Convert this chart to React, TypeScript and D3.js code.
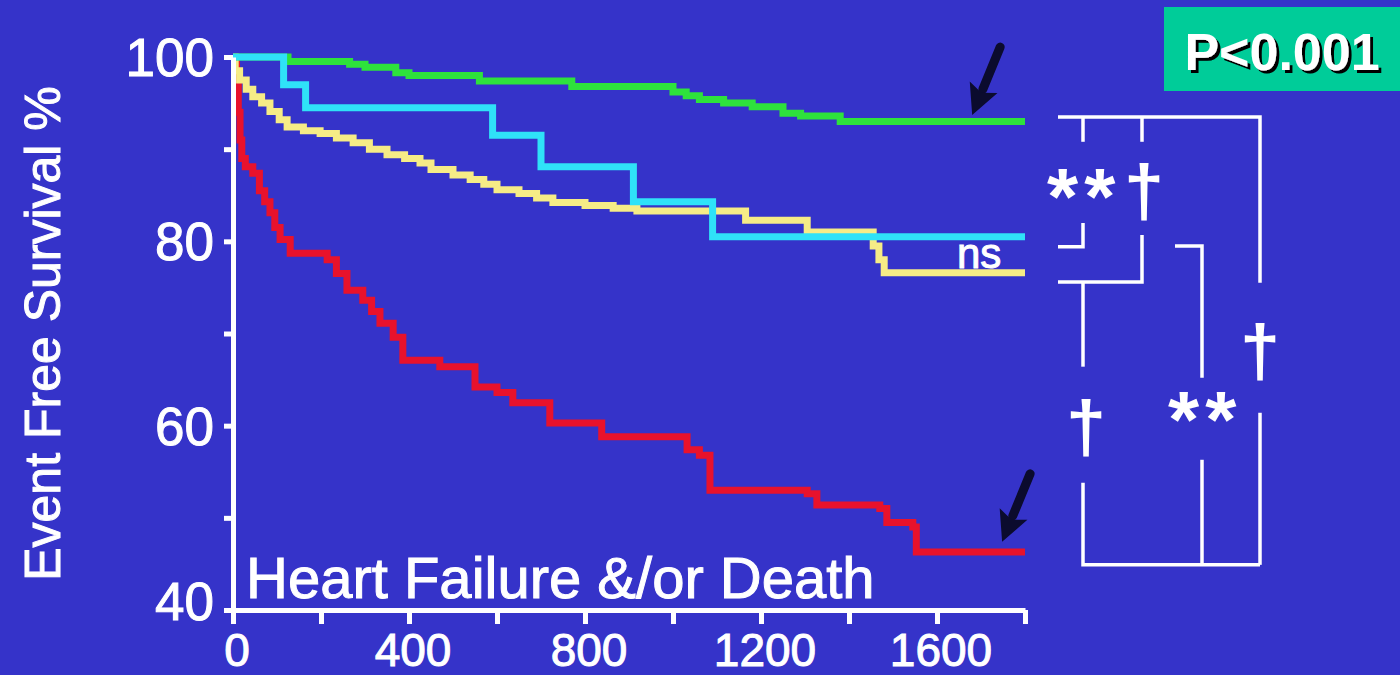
import React, { useEffect, useRef } from "react";
import * as d3 from "d3";

const W = 1400;
const H = 675;
const BG = "#3533c9";
const FONT = "'Liberation Sans', Arial, sans-serif";

// Kaplan-Meier steps: [days, event free survival %]
const greenSteps = [
  [0, 100], [125, 99.5], [265, 99.2], [300, 98.9], [370, 98.3], [400, 98.0],
  [560, 97.4], [770, 96.8], [1000, 96.2], [1030, 95.8], [1060, 95.4],
  [1115, 95.0], [1180, 94.6], [1250, 93.9], [1290, 93.6], [1380, 93.0],
];
const cyanSteps = [
  [0, 100], [115, 97.0], [165, 94.5], [590, 91.5], [700, 88.1], [910, 84.3], [1090, 80.5],
];
const yellowSteps = [
  [0, 100], [5, 98.5], [15, 97.5], [30, 96.5], [45, 95.7], [65, 95.0], [84, 94.1],
  [105, 93.2], [123, 92.4], [160, 92.0], [198, 91.7], [235, 91.2], [273, 90.7],
  [310, 90.0], [350, 89.4], [390, 89.0], [425, 88.5], [450, 87.8], [500, 87.2],
  [539, 86.7], [570, 86.2], [600, 85.6], [650, 85.2], [690, 84.7], [727, 84.2],
  [800, 83.9], [864, 83.6], [918, 83.3], [1165, 82.3], [1305, 81.0], [1455, 79.5],
  [1468, 78.0], [1480, 76.6],
];
const redSteps = [
  [0, 100], [8, 97], [12, 94], [16, 91], [20, 89], [28, 88.1], [45, 87.4], [60, 85.5],
  [72, 84.3], [84, 83.1], [95, 81.5], [107, 80.2], [130, 78.7], [214, 78.0],
  [235, 76.5], [259, 74.7], [295, 73.6], [315, 72.4], [334, 71.1], [364, 69.6],
  [386, 67.1], [470, 66.4], [550, 64.2], [600, 63.6], [636, 62.5], [720, 60.3],
  [838, 58.8], [1032, 57.4], [1060, 56.8], [1084, 53.0], [1305, 52.6], [1327, 51.4],
  [1470, 51.0], [1486, 49.5], [1545, 49.0], [1553, 46.3],
];

const series = [
  { name: "red", color: "#e8122c", values: redSteps },
  { name: "yellow", color: "#f6ec86", values: yellowSteps },
  { name: "green", color: "#2ee23c", values: greenSteps },
  { name: "cyan", color: "#2fe2f8", values: cyanSteps },
];

const xTicks = [0, 200, 400, 600, 800, 1000, 1200, 1400, 1600, 1800];
const xLabels = [0, 400, 800, 1200, 1600];
const yTicks = [40, 50, 60, 70, 80, 90, 100];
const yLabels = [40, 60, 80, 100];

// arrows point at the last steps of green and red
const arrowTips = [
  [1680, 93.7],
  [1748, 47.4],
];

// significance brackets: x as offset (px) from the right end of the x axis, y in survival %
const brackets = [
  [[33, 93.5], [235, 93.5], [235, 75.5]],
  [[58, 93.5], [58, 90.8]],
  [[117, 93.5], [117, 90.8]],
  [[58, 82.0], [58, 79.4], [33, 79.4]],
  [[117, 80.7], [117, 75.6], [33, 75.6]],
  [[150, 79.5], [177, 79.5], [177, 65.2]],
  [[58, 75.6], [58, 66.4]],
  [[58, 53.8], [58, 44.9], [235, 44.9]],
  [[177, 56.3], [177, 44.9]],
  [[235, 61.4], [235, 44.9]],
];
const bracketMarks = [
  { text: "**", dx: 22, v: 81.9 },
  { text: "†", dx: 119, v: 82.7 },
  { text: "†", dx: 61, v: 57.1 },
  { text: "**", dx: 143, v: 57.7 },
  { text: "†", dx: 235, v: 65.4 },
];

export default function App() {
  const ref = useRef<SVGSVGElement>(null);

  useEffect(() => {
    const svg = d3.select(ref.current);
    svg.selectAll("*").remove();

    const defs = svg.append("defs");
    defs
      .append("filter")
      .attr("id", "pshadow")
      .append("feDropShadow")
      .attr("dx", 3)
      .attr("dy", 3)
      .attr("stdDeviation", 0.6)
      .attr("flood-color", "black");

    svg.append("rect").attr("width", W).attr("height", H).attr("fill", BG);

    const x = d3.scaleLinear().domain([0, 1800]).range([233, 1025]);
    const y = d3.scaleLinear().domain([40, 100]).range([610, 57]);

    const line = d3
      .line<number[]>()
      .x((d) => x(d[0]))
      .y((d) => y(d[1]))
      .curve(d3.curveStepAfter);

    // survival curves
    series.forEach((s) => {
      const last = s.values[s.values.length - 1];
      svg
        .append("path")
        .datum([...s.values, [1800, last[1]]])
        .attr("d", line)
        .attr("fill", "none")
        .attr("stroke", s.color)
        .attr("stroke-width", 7);
    });

    // x axis, ticks only
    const gx = svg
      .append("g")
      .attr("transform", `translate(0,${y(40)})`)
      .call(d3.axisBottom(x).tickValues(xTicks).tickSize(14).tickSizeOuter(0).tickFormat(() => ""));
    gx.select(".domain").attr("stroke", "white").attr("stroke-width", 5);
    gx.selectAll(".tick line").attr("stroke", "white").attr("stroke-width", 5);

    // y axis, ticks only
    const gy = svg
      .append("g")
      .attr("transform", `translate(${x(0)},0)`)
      .call(d3.axisLeft(y).tickValues(yTicks).tickSize(9).tickSizeOuter(0).tickFormat(() => ""));
    gy.select(".domain").attr("stroke", "white").attr("stroke-width", 5);
    gy.selectAll(".tick line").attr("stroke", "white").attr("stroke-width", 5);

    const label = (sel: any, size: number) =>
      sel
        .attr("fill", "white")
        .attr("stroke", "white")
        .attr("stroke-width", 1)
        .attr("font-family", FONT)
        .attr("font-size", size);

    // tick labels
    svg
      .append("g")
      .selectAll("text")
      .data(xLabels)
      .enter()
      .append("text")
      .attr("x", (d) => x(d) + 4)
      .attr("y", 666)
      .attr("text-anchor", "middle")
      .call(label, 46)
      .text((d) => d);

    svg
      .append("g")
      .selectAll("text")
      .data(yLabels)
      .enter()
      .append("text")
      .attr("x", 214)
      .attr("y", (d) => y(d) + (d === 40 ? 10 : 19))
      .attr("text-anchor", "end")
      .call(label, 53)
      .text((d) => d);

    // y axis title
    svg
      .append("text")
      .attr("transform", `translate(60,${(y(40) + y(100)) / 2}) rotate(-90)`)
      .attr("text-anchor", "middle")
      .call(label, 50)
      .text("Event Free Survival %");

    // panel title
    svg
      .append("text")
      .attr("x", 246)
      .attr("y", 598)
      .call(label, 58)
      .text("Heart Failure &/or Death");

    // ns
    svg
      .append("text")
      .attr("x", 957)
      .attr("y", 268)
      .call(label, 42)
      .text("ns");

    // arrows
    arrowTips.forEach(([t, v]) => {
      const tx = x(t);
      const ty = y(v);
      const sx = tx + 28;
      const sy = ty - 68;
      const len = Math.hypot(tx - sx, ty - sy);
      const ux = (tx - sx) / len;
      const uy = (ty - sy) / len;
      const bx = tx - ux * 30;
      const by = ty - uy * 30;
      svg
        .append("line")
        .attr("x1", sx)
        .attr("y1", sy)
        .attr("x2", bx + ux * 2)
        .attr("y2", by + uy * 2)
        .attr("stroke", "#0b0b2e")
        .attr("stroke-width", 9)
        .attr("stroke-linecap", "round");
      svg
        .append("path")
        .attr(
          "d",
          `M${tx},${ty}L${bx - uy * 15},${by + ux * 15}L${bx + ux * 6},${by + uy * 6}L${bx + uy * 15},${by - ux * 15}Z`
        )
        .attr("fill", "#0b0b2e");
    });

    // significance brackets
    const bLine = d3
      .line<number[]>()
      .x((d) => x(1800) + d[0])
      .y((d) => y(d[1]));
    svg
      .append("g")
      .selectAll("path")
      .data(brackets)
      .enter()
      .append("path")
      .attr("d", (d) => bLine(d))
      .attr("fill", "none")
      .attr("stroke", "white")
      .attr("stroke-width", 3.5);

    svg
      .append("g")
      .selectAll("text")
      .data(bracketMarks)
      .enter()
      .append("text")
      .attr("x", (d) => x(1800) + d.dx)
      .attr("y", (d) => y(d.v))
      .attr("text-anchor", (d) => (d.text === "**" ? "start" : "middle"))
      .attr("fill", "white")
      .attr("font-family", FONT)
      .attr("font-weight", "bold")
      .attr("font-size", (d) => (d.text === "**" ? 80 : 72))
      .attr("letter-spacing", (d) => (d.text === "**" ? 6 : 0))
      .text((d) => d.text);

    // p value box
    svg.append("rect").attr("x", 1164).attr("y", 7).attr("width", 236).attr("height", 84).attr("fill", "#00cc99");
    svg
      .append("text")
      .attr("x", 1282)
      .attr("y", 70)
      .attr("text-anchor", "middle")
      .attr("fill", "white")
      .attr("font-family", FONT)
      .attr("font-weight", "bold")
      .attr("font-size", 52)
      .attr("filter", "url(#pshadow)")
      .text("P<0.001");
  }, []);

  return <svg ref={ref} width={W} height={H} style={{ position: "absolute", left: 0, top: 0 }} />;
}
